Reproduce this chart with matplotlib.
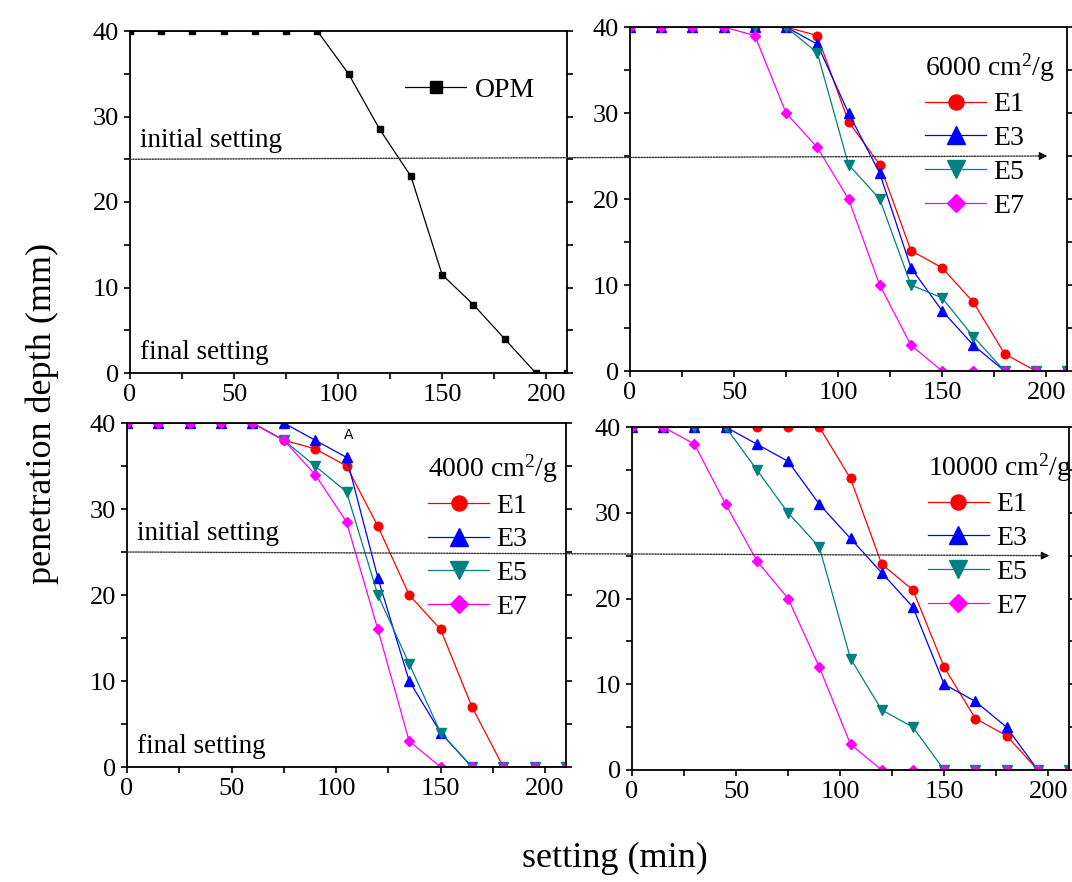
import matplotlib
matplotlib.use("Agg")
import matplotlib.pyplot as plt
from matplotlib.patches import ConnectionPatch
from matplotlib.ticker import MultipleLocator

plt.rcParams['font.family'] = ['Liberation Serif', 'DejaVu Serif']
plt.rcParams['mathtext.fontset'] = 'custom'
plt.rcParams['mathtext.rm'] = 'Liberation Serif'
plt.rcParams['mathtext.it'] = 'Liberation Serif:italic'

# setting time (min)
time = [0, 15, 30, 45, 60, 75, 90, 105, 120, 135, 150, 165, 180, 195, 210]

# plain OPM
opm = [40, 40, 40, 40, 40, 40, 40, 35, 28.5, 23, 11.5, 8, 4, 0, 0]

# 6000 cm2/g
e1_6000 = [40, 40, 40, 40, 40, 40, 39, 29, 24, 14, 12, 8, 2, 0, 0]
e3_6000 = [40, 40, 40, 40, 40, 40, 38, 30, 23, 12, 7, 3, 0, 0, 0]
e5_6000 = [40, 40, 40, 40, 40, 40, 37, 24, 20, 10, 8.5, 4, 0, 0, 0]
e7_6000 = [40, 40, 40, 40, 39, 30, 26, 20, 10, 3, 0, 0, 0, 0, 0]

# 4000 cm2/g
e1_4000 = [40, 40, 40, 40, 40, 38, 37, 35, 28, 20, 16, 7, 0, 0, 0]
e3_4000 = [40, 40, 40, 40, 40, 40, 38, 36, 22, 10, 4, 0, 0, 0, 0]
e5_4000 = [40, 40, 40, 40, 40, 38, 35, 32, 20, 12, 4, 0, 0, 0, 0]
e7_4000 = [40, 40, 40, 40, 40, 38, 34, 28.5, 16, 3, 0, 0, 0, 0, 0]

# 10000 cm2/g
e1_10000 = [40, 40, 40, 40, 40, 40, 40, 34, 24, 21, 12, 6, 4, 0, 0]
e3_10000 = [40, 40, 40, 40, 38, 36, 31, 27, 23, 19, 10, 8, 5, 0, 0]
e5_10000 = [40, 40, 40, 40, 35, 30, 26, 13, 7, 5, 0, 0, 0, 0, 0]
e7_10000 = [40, 40, 38, 31, 24.4, 20, 12, 3, 0, 0, 0, 0, 0, 0, 0]

labels = ['E1', 'E3', 'E5', 'E7']
colors = ['#ff0000', '#0000ff', '#008080', '#ff00ff']
markers = ['o', '^', 'v', 'D']
msizes = [6.2, 7, 7, 5.5]

W, H = 1072, 882
fig = plt.figure(figsize=(W / 100, H / 100), dpi=100)


def box(l, t, r, b):
    return [l / W, 1 - b / H, (r - l) / W, (b - t) / H]


ax1 = fig.add_axes(box(130, 31, 567, 373))
ax2 = fig.add_axes(box(630, 27, 1067, 371))
ax3 = fig.add_axes(box(127, 423, 566, 767))
ax4 = fig.add_axes(box(632, 427, 1069, 770))

for ax in (ax1, ax2, ax3, ax4):
    ax.set_xlim(0, 210)
    ax.set_ylim(0, 40)
    ax.xaxis.set_major_locator(MultipleLocator(50))
    ax.xaxis.set_minor_locator(MultipleLocator(25))
    ax.yaxis.set_major_locator(MultipleLocator(10))
    ax.yaxis.set_minor_locator(MultipleLocator(5))
    ax.tick_params(which='both', direction='out', length=4, width=1.2,
                   top=False, right=True, labelsize=19, pad=4)
    for s in ax.spines.values():
        s.set_linewidth(1.3)

ax1.plot(time, opm, color='k', lw=0.9, marker='s', ms=5, label='OPM')
ax1.legend(loc='center left', bbox_to_anchor=(0.63, 0.827), frameon=False,
           fontsize=20, handlelength=2.2, handletextpad=0.3, markerscale=1.8,
           borderpad=0, borderaxespad=0)


def draw_group(ax, series, title, anchor):
    for ys, lab, c, m, ms in zip(series, labels, colors, markers, msizes):
        ax.plot(time, ys, color=c, lw=0.9, marker=m, ms=ms, label=lab)
    ax.legend(title=title, loc='upper left', bbox_to_anchor=anchor,
              frameon=False, fontsize=20, title_fontsize=20, alignment='left',
              handlelength=2.2, handletextpad=0.25, labelspacing=0.3,
              markerscale=1.75, borderpad=0, borderaxespad=0)


draw_group(ax2, [e1_6000, e3_6000, e5_6000, e7_6000], '6000 cm$^2$/g', (0.675, 0.93))
draw_group(ax3, [e1_4000, e3_4000, e5_4000, e7_4000], '4000 cm$^2$/g', (0.686, 0.915))
draw_group(ax4, [e1_10000, e3_10000, e5_10000, e7_10000], '10000 cm$^2$/g', (0.677, 0.93))

for ax in (ax1, ax3):
    ax.text(5, 26.4, 'initial setting', fontsize=19.5)
    ax.text(5, 1.6, 'final setting', fontsize=19.5)

ax3.text(106, 38.6, 'A', fontsize=10, family='DejaVu Sans', ha='center', va='center')

# dotted guide lines at 25 mm running into the right-hand panels
for left, right in ((ax1, ax2), (ax3, ax4)):
    con = ConnectionPatch(xyA=(0, 25), coordsA=left.transData,
                          xyB=(199, 25), coordsB=right.transData,
                          linestyle=(0, (1, 1)), lw=1, color='#333333')
    fig.add_artist(con)
    right.annotate('', xy=(200.5, 25), xytext=(196, 25),
                   arrowprops=dict(arrowstyle='-|>', color='k', lw=0.8,
                                   mutation_scale=12, shrinkA=0, shrinkB=0))

fig.text(42 / W, 1 - 413 / H, 'penetration depth (mm)', fontsize=26,
         rotation=90, ha='center', va='center')
fig.text(615 / W, 1 - 858 / H, 'setting (min)', fontsize=26,
         ha='center', va='center')

fig.savefig('out.png', dpi=100)
